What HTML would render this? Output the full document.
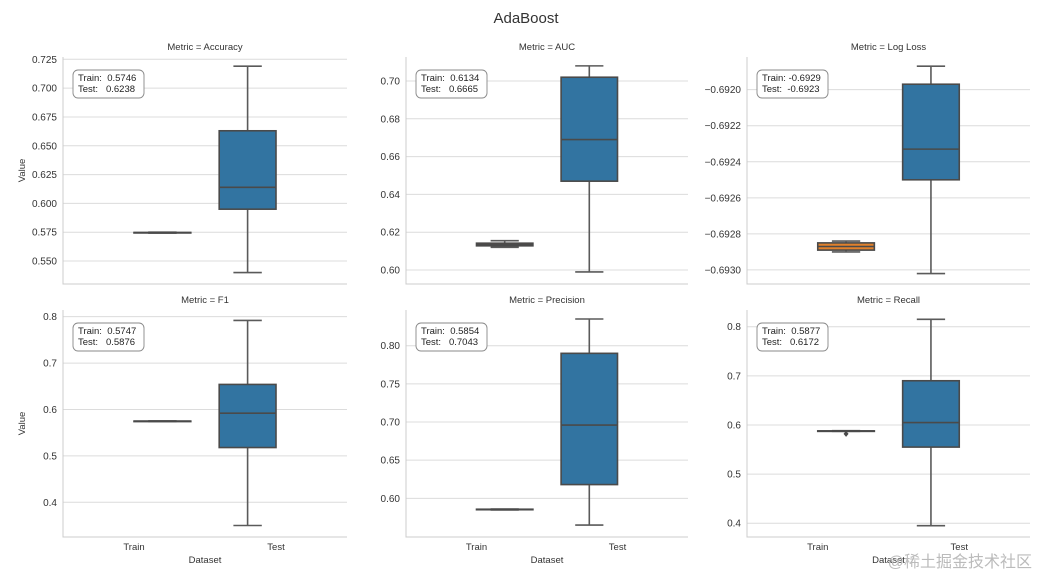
<!DOCTYPE html>
<html><head><meta charset="utf-8"><style>
body{margin:0;background:#fff;}
svg{display:block;font-family:"Liberation Sans",Arial,sans-serif;}
</style></head><body>
<svg id="chart" width="1039" height="578" viewBox="0 0 1039 578">
<text x="526" y="23" text-anchor="middle" font-size="15" fill="#333">AdaBoost</text>
</svg>
<script>
const metrics = ["Accuracy","AUC","Log Loss","F1","Precision","Recall"];
const categories = ["Train","Test"];
// [whiskerLow, q1, median, q3, whiskerHigh]
const trainStats = [
 [0.5743,0.5744,0.5746,0.5748,0.5750],
 [0.6120,0.6128,0.6134,0.6142,0.6155],
 [-0.69290,-0.69289,-0.69287,-0.69285,-0.69284],
 [0.5742,0.5744,0.5747,0.5750,0.5753],
 [0.5848,0.5851,0.5854,0.5857,0.5860],
 [0.5870,0.5874,0.5877,0.5880,0.5884]
];
const testStats = [
 [0.540,0.595,0.614,0.663,0.719],
 [0.599,0.647,0.669,0.702,0.708],
 [-0.69302,-0.69250,-0.69233,-0.69197,-0.69187],
 [0.350,0.518,0.592,0.654,0.792],
 [0.565,0.618,0.696,0.790,0.835],
 [0.395,0.555,0.605,0.690,0.815]
];
const trainMeans = ["0.5746","0.6134","-0.6929","0.5747","0.5854","0.5877"];
const testMeans = ["0.6238","0.6665","-0.6923","0.5876","0.7043","0.6172"];
const yMin = [0.5301,0.5926,-0.693078,0.3252,0.5493,0.372];
const yMax = [0.727,0.7127,-0.691819,0.8144,0.8468,0.834];
const yTicks = [
 [0.550,0.575,0.600,0.625,0.650,0.675,0.700,0.725],
 [0.60,0.62,0.64,0.66,0.68,0.70],
 [-0.6930,-0.6928,-0.6926,-0.6924,-0.6922,-0.6920],
 [0.4,0.5,0.6,0.7,0.8],
 [0.60,0.65,0.70,0.75,0.80],
 [0.4,0.5,0.6,0.7,0.8]
];
const tickDigits = [3,2,4,1,2,1];
const recallOutlier = 0.5820;

const NS="http://www.w3.org/2000/svg";
const svg=document.getElementById('chart');
const colX=[[63,347],[406,688],[747,1030]];
const rowY=[[57,284],[310,537]];
function mk(tag,attrs,parent){const e=document.createElementNS(NS,tag);for(const k in attrs)e.setAttribute(k,attrs[k]);(parent||svg).appendChild(e);return e;}

metrics.forEach((m,i)=>{
  const [x0,x1]=colX[i%3],[y0,y1]=rowY[Math.floor(i/3)];
  const g=mk('g',{});
  
  
  const ys=v=>y1-(v-yMin[i])/(yMax[i]-yMin[i])*(y1-y0);
  const xs=f=>x0+f*(x1-x0);
  const catPos=[0.35,0.65];
  const labelPos=[0.25,0.75];
  yTicks[i].forEach(t=>{
    const y=ys(t);
    const l=mk('line',{x1:x0,x2:x1,y1:y,y2:y,stroke:'#dcdcdc','stroke-width':1},g);
    
    
    const tx=mk('text',{x:x0-6,y:y+3.5,'text-anchor':'end','font-size':10,fill:'#333'},g);
    
    
    tx.textContent=t.toFixed(tickDigits[i]).replace('-','\u2212');
  });
  const sp=mk('path',{d:`M${x0},${y0}V${y1}H${x1}`,stroke:'#cccccc',fill:'none','stroke-width':1},g);
  
  
  const tt=mk('text',{x:(x0+x1)/2,y:y0-7,'text-anchor':'middle','font-size':9.5,fill:'#333'},g);
  
  
  tt.textContent='Metric = '+m;
  [trainStats[i],testStats[i]].forEach((s,c)=>{
    const cx=xs(catPos[c]),w=0.2*(x1-x0);
    const bg=mk('g',{},g);
    
    
    const col='#4a4a4a';
    mk('line',{x1:cx,x2:cx,y1:ys(s[0]),y2:ys(s[1]),stroke:'#5a5a5a','stroke-width':1.6},bg);
    mk('line',{x1:cx,x2:cx,y1:ys(s[3]),y2:ys(s[4]),stroke:'#5a5a5a','stroke-width':1.6},bg);
    mk('line',{x1:cx-w/4,x2:cx+w/4,y1:ys(s[0]),y2:ys(s[0]),stroke:'#5a5a5a','stroke-width':1.6},bg);
    mk('line',{x1:cx-w/4,x2:cx+w/4,y1:ys(s[4]),y2:ys(s[4]),stroke:'#5a5a5a','stroke-width':1.6},bg);
    const top=ys(s[3]),bot=ys(s[1]);
    mk('rect',{x:cx-w/2,y:top,width:w,height:Math.max(bot-top,0.5),fill:c?'#3274a1':'#e1812c',stroke:col,'stroke-width':1.6},bg);
    mk('line',{x1:cx-w/2,x2:cx+w/2,y1:ys(s[2]),y2:ys(s[2]),stroke:col,'stroke-width':1.6},bg);
  });
  if(m==="Recall"){
    const o=mk('path',{d:`M${xs(0.35)-2.5},${ys(recallOutlier)}l2.5,-3l2.5,3l-2.5,3z`,fill:'#4a4a4a'},g);
    
    
  }
  const ag=mk('g',{},g);
  
  
  mk('rect',{x:x0+10,y:y0+13,width:71,height:28,rx:5,fill:'#fff',stroke:'#888','stroke-width':0.9},ag);
  const a1=mk('text',{x:x0+15,y:y0+24,'font-size':9.5,fill:'#222'},ag);
  a1.textContent='Train: '+(trainMeans[i].startsWith('-')?'':' ')+trainMeans[i];
  const a2=mk('text',{x:x0+15,y:y0+35,'font-size':9.5,fill:'#222'},ag);
  a2.textContent='Test:  '+(testMeans[i].startsWith('-')?'':' ')+testMeans[i];
  a1.style.whiteSpace='pre';a2.style.whiteSpace='pre';
  if(i>=3){
    categories.forEach((cn,c)=>{
      const t=mk('text',{x:xs(labelPos[c]),y:y1+13,'text-anchor':'middle','font-size':9.5,fill:'#333'},g);
      
      
      t.textContent=cn;
    });
    const xl=mk('text',{x:(x0+x1)/2,y:y1+26,'text-anchor':'middle','font-size':9.5,fill:'#333'},g);
    
    
    xl.textContent='Dataset';
  }
  if(i%3===0){
    const yl=mk('text',{x:0,y:0,'text-anchor':'middle','font-size':9.5,fill:'#333',transform:`translate(${x0-38},${(y0+y1)/2}) rotate(-90)`},g);
    
    
    yl.textContent='Value';
  }
});
const wm=mk('text',{x:1032,y:567,'text-anchor':'end','font-size':16,fill:'#bbb','font-family':'"Liberation Sans","Noto Sans CJK SC",sans-serif'});


wm.textContent='@稀土掘金技术社区';
</script>
</body></html>
